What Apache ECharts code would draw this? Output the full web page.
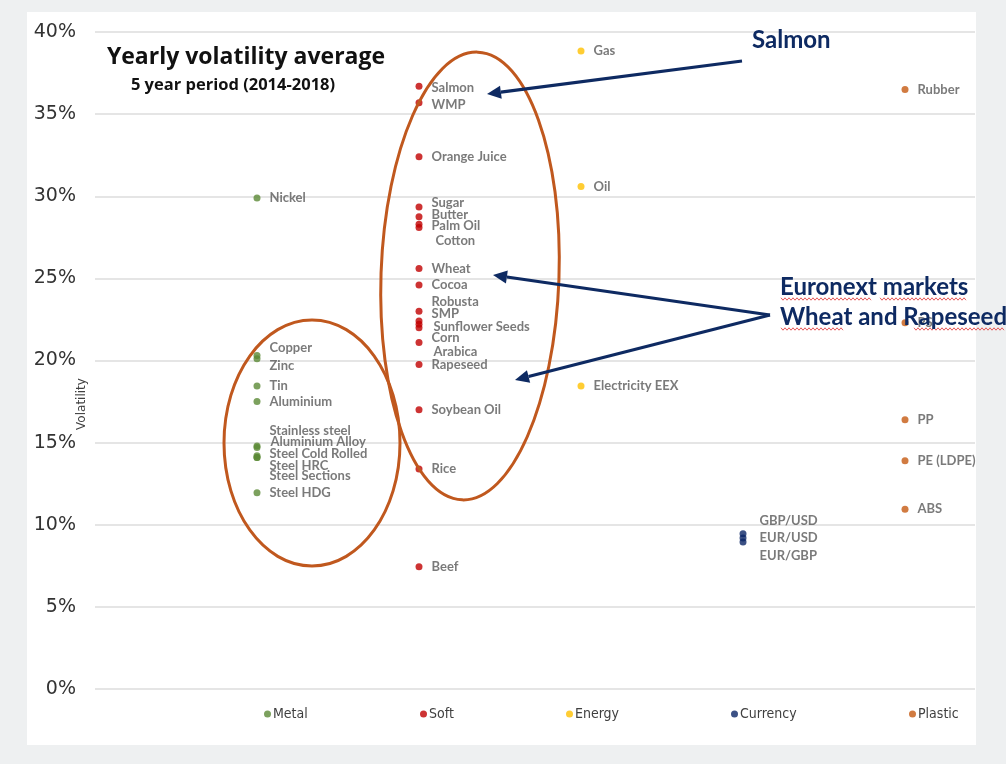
<!DOCTYPE html>
<html>
<head>
<meta charset="utf-8">
<script src="https://cdn.jsdelivr.net/npm/echarts@6/dist/echarts.min.js"></script>
<style>
  html, body { margin:0; padding:0; width:1006px; height:764px; background:#eef0f1; overflow:hidden; }
  #panel { position:absolute; left:27px; top:12px; width:949px; height:733px; background:#ffffff; }
  #chart { position:absolute; left:0; top:0; width:1006px; height:764px; }
</style>
</head>
<body>
<div id="panel"></div>
<div id="chart"></div>
<script>
// ---------- DATA ----------
const categories = ['Metal', 'Soft', 'Energy', 'Currency', 'Plastic'];

const metalNames  = ['Nickel', 'Copper', 'Zinc', 'Tin', 'Aluminium', 'Stainless steel', 'Aluminium Alloy', 'Steel Cold Rolled', 'Steel HRC', 'Steel Sections', 'Steel HDG'];
const metalValues = [29.9, 20.3, 20.1, 18.45, 17.5, 14.8, 14.7, 14.2, 14.1, 14.1, 11.95];

const softNames  = ['Salmon', 'WMP', 'Orange Juice', 'Sugar', 'Butter', 'Palm Oil', 'Cotton', 'Wheat', 'Cocoa', 'Robusta', 'SMP', 'Sunflower Seeds', 'Corn', 'Arabica', 'Rapeseed', 'Soybean Oil', 'Rice', 'Beef'];
const softValues = [36.7, 35.7, 32.4, 29.35, 28.75, 28.3, 28.1, 25.6, 24.6, 23.0, 22.4, 22.2, 22.0, 21.1, 19.75, 17.0, 13.4, 7.45];

const energyNames  = ['Gas', 'Oil', 'Electricity EEX'];
const energyValues = [38.85, 30.6, 18.45];

const currencyNames  = ['GBP/USD', 'EUR/USD', 'EUR/GBP'];
const currencyValues = [9.45, 9.2, 8.95];

const plasticNames  = ['Rubber', 'PS', 'PP', 'PE (LDPE)', 'ABS'];
const plasticValues = [36.5, 22.3, 16.4, 13.9, 10.95];

const yTickMin = 0, yTickMax = 40, yTickStep = 5;

// ---------- STYLE ----------
const colors = { Metal:'#5b8a36', Soft:'#c00000', Energy:'#ffc000', Currency:'#0b2566', Plastic:'#c55a11' };
// manual label shifts (as moved in the original)
const labelShift = {
  'Copper':[0,-8], 'Zinc':[0,7], 'Stainless steel':[0,-15], 'Aluminium Alloy':[1,-6], 'Steel Cold Rolled':[0,-2],
  'Steel HRC':[0,8], 'Steel Sections':[0,18],
  'Salmon':[0,2], 'WMP':[0,2], 'Sugar':[0,-4], 'Butter':[0,-2], 'Palm Oil':[0,2], 'Cotton':[4,13],
  'Robusta':[0,-9], 'SMP':[0,-7], 'Sunflower Seeds':[2,2], 'Corn':[0,10], 'Arabica':[2,9],
  'GBP/USD':[4,-13], 'EUR/USD':[4,0], 'EUR/GBP':[4,14]
};

const groups = [
  [metalNames, metalValues], [softNames, softValues], [energyNames, energyValues],
  [currencyNames, currencyValues], [plasticNames, plasticValues]
];

const labelFont = 'Lato, "Open Sans", sans-serif';
const series = categories.map((cat, i) => ({
  name: cat,
  type: 'scatter',
  symbol: 'circle',
  symbolSize: 7,
  itemStyle: { color: colors[cat] },
  z: 3,
  label: {
    show: true, position: 'right', distance: 9,
    formatter: p => p.data.name,
    color: '#595959', fontWeight: 'bold', fontSize: 13, fontFamily: labelFont
  },
  data: groups[i][0].map((n, k) => {
    const d = { name: n, value: [i + 1, groups[i][1][k]] };
    if (labelShift[n]) d.label = { offset: labelShift[n] };
    return d;
  })
}));

const legendLeft = { Metal: 264, Soft: 420, Energy: 566, Currency: 731, Plastic: 909 };
const legends = categories.map(cat => ({
  data: [cat], left: legendLeft[cat], top: 707, padding: 0,
  icon: 'circle', itemWidth: 7, itemHeight: 7, itemGap: 0,
  textStyle: { color: '#404040', fontSize: 14, fontFamily: '"DejaVu Sans Condensed", "DejaVu Sans", sans-serif', padding: [0,0,0,-3] },
  selectedMode: false
}));

// ---------- annotations ----------
const navy = '#0e2a62';
const rust = '#c0581e';
function arrow(x1, y1, x2, y2) {
  const ang = Math.atan2(y2 - y1, x2 - x1);
  const L = 14, W = 6.5;
  const bx = x2 - L * Math.cos(ang), by = y2 - L * Math.sin(ang);
  const nx = -Math.sin(ang), ny = Math.cos(ang);
  return [
    { type: 'polyline', shape: { points: [[x1, y1], [bx, by]] }, style: { stroke: navy, lineWidth: 3.2, fill: null }, z: 10 },
    { type: 'polygon', shape: { points: [[x2, y2], [bx + nx * W, by + ny * W], [bx - nx * W, by - ny * W]] }, style: { fill: navy }, z: 10 }
  ];
}
function squiggle(x1, x2, y) {
  const pts = [];
  for (let x = x1, k = 0; x <= x2; x += 2, k++) pts.push([x, y + (k % 2 ? 1.2 : -1.2)]);
  return { type: 'polyline', shape: { points: pts }, style: { stroke: '#e03030', lineWidth: 0.8, fill: null }, z: 11 };
}

const annFont = 'bold 24px Lato, "Open Sans", sans-serif';
const graphics = [
  { type: 'text', x: 246, y: 57, style: { text: 'Yearly volatility average', font: 'bold 23px "Open Sans", Lato, sans-serif', fill: '#111', align: 'center', verticalAlign: 'middle' } },
  { type: 'text', x: 233, y: 85, style: { text: '5 year period (2014-2018)', font: 'bold 16.5px "Open Sans", Lato, sans-serif', fill: '#111', align: 'center', verticalAlign: 'middle' } },
  { type: 'text', x: 82, y: 404, rotation: Math.PI / 2, style: { text: 'Volatility', font: '12px "DejaVu Sans", sans-serif', fill: '#404040', align: 'center', verticalAlign: 'middle' } },
  { type: 'ellipse', shape: { cx: 312, cy: 443, rx: 88, ry: 123 }, style: { stroke: rust, lineWidth: 3, fill: null }, z: 9 },
  { type: 'ellipse', shape: { cx: 0, cy: 0, rx: 89, ry: 224 }, x: 470, y: 276, rotation: -0.035, style: { stroke: rust, lineWidth: 3, fill: null }, z: 9 },
  ...arrow(742, 61, 487, 94),
  ...arrow(770, 315, 493, 275),
  ...arrow(770, 315, 515, 380),
  { type: 'text', x: 752, y: 40, style: { text: 'Salmon', font: annFont, fill: navy, align: 'left', verticalAlign: 'middle' }, z: 12 },
  { type: 'text', x: 780, y: 287, style: { text: 'Euronext markets', font: annFont, fill: navy, align: 'left', verticalAlign: 'middle' }, z: 12 },
  { type: 'text', x: 780, y: 317, style: { text: 'Wheat and Rapeseed', font: annFont, fill: navy, align: 'left', verticalAlign: 'middle' }, z: 12 },
  squiggle(781, 872, 299), squiggle(880, 967, 299),
  squiggle(781, 843, 329), squiggle(914, 1005, 329)
];

const chart = echarts.init(document.getElementById('chart'), null, { renderer: 'canvas' });
chart.setOption({
  backgroundColor: 'transparent',
  animation: false,
  grid: { left: 95, right: 31, top: 32, bottom: 75, containLabel: false },
  xAxis: { type: 'value', min: 0, max: 5.432, show: false },
  yAxis: {
    type: 'value', min: yTickMin, max: yTickMax, interval: yTickStep,
    axisLine: { show: false }, axisTick: { show: false },
    axisLabel: { formatter: '{value}%', fontSize: 19, color: '#333333', fontFamily: '"DejaVu Sans", sans-serif', margin: 19 },
    splitLine: { lineStyle: { color: '#dcdcdc', width: 1.5 } }
  },
  legend: legends,
  series: series,
  graphic: graphics
});
</script>
</body>
</html>
